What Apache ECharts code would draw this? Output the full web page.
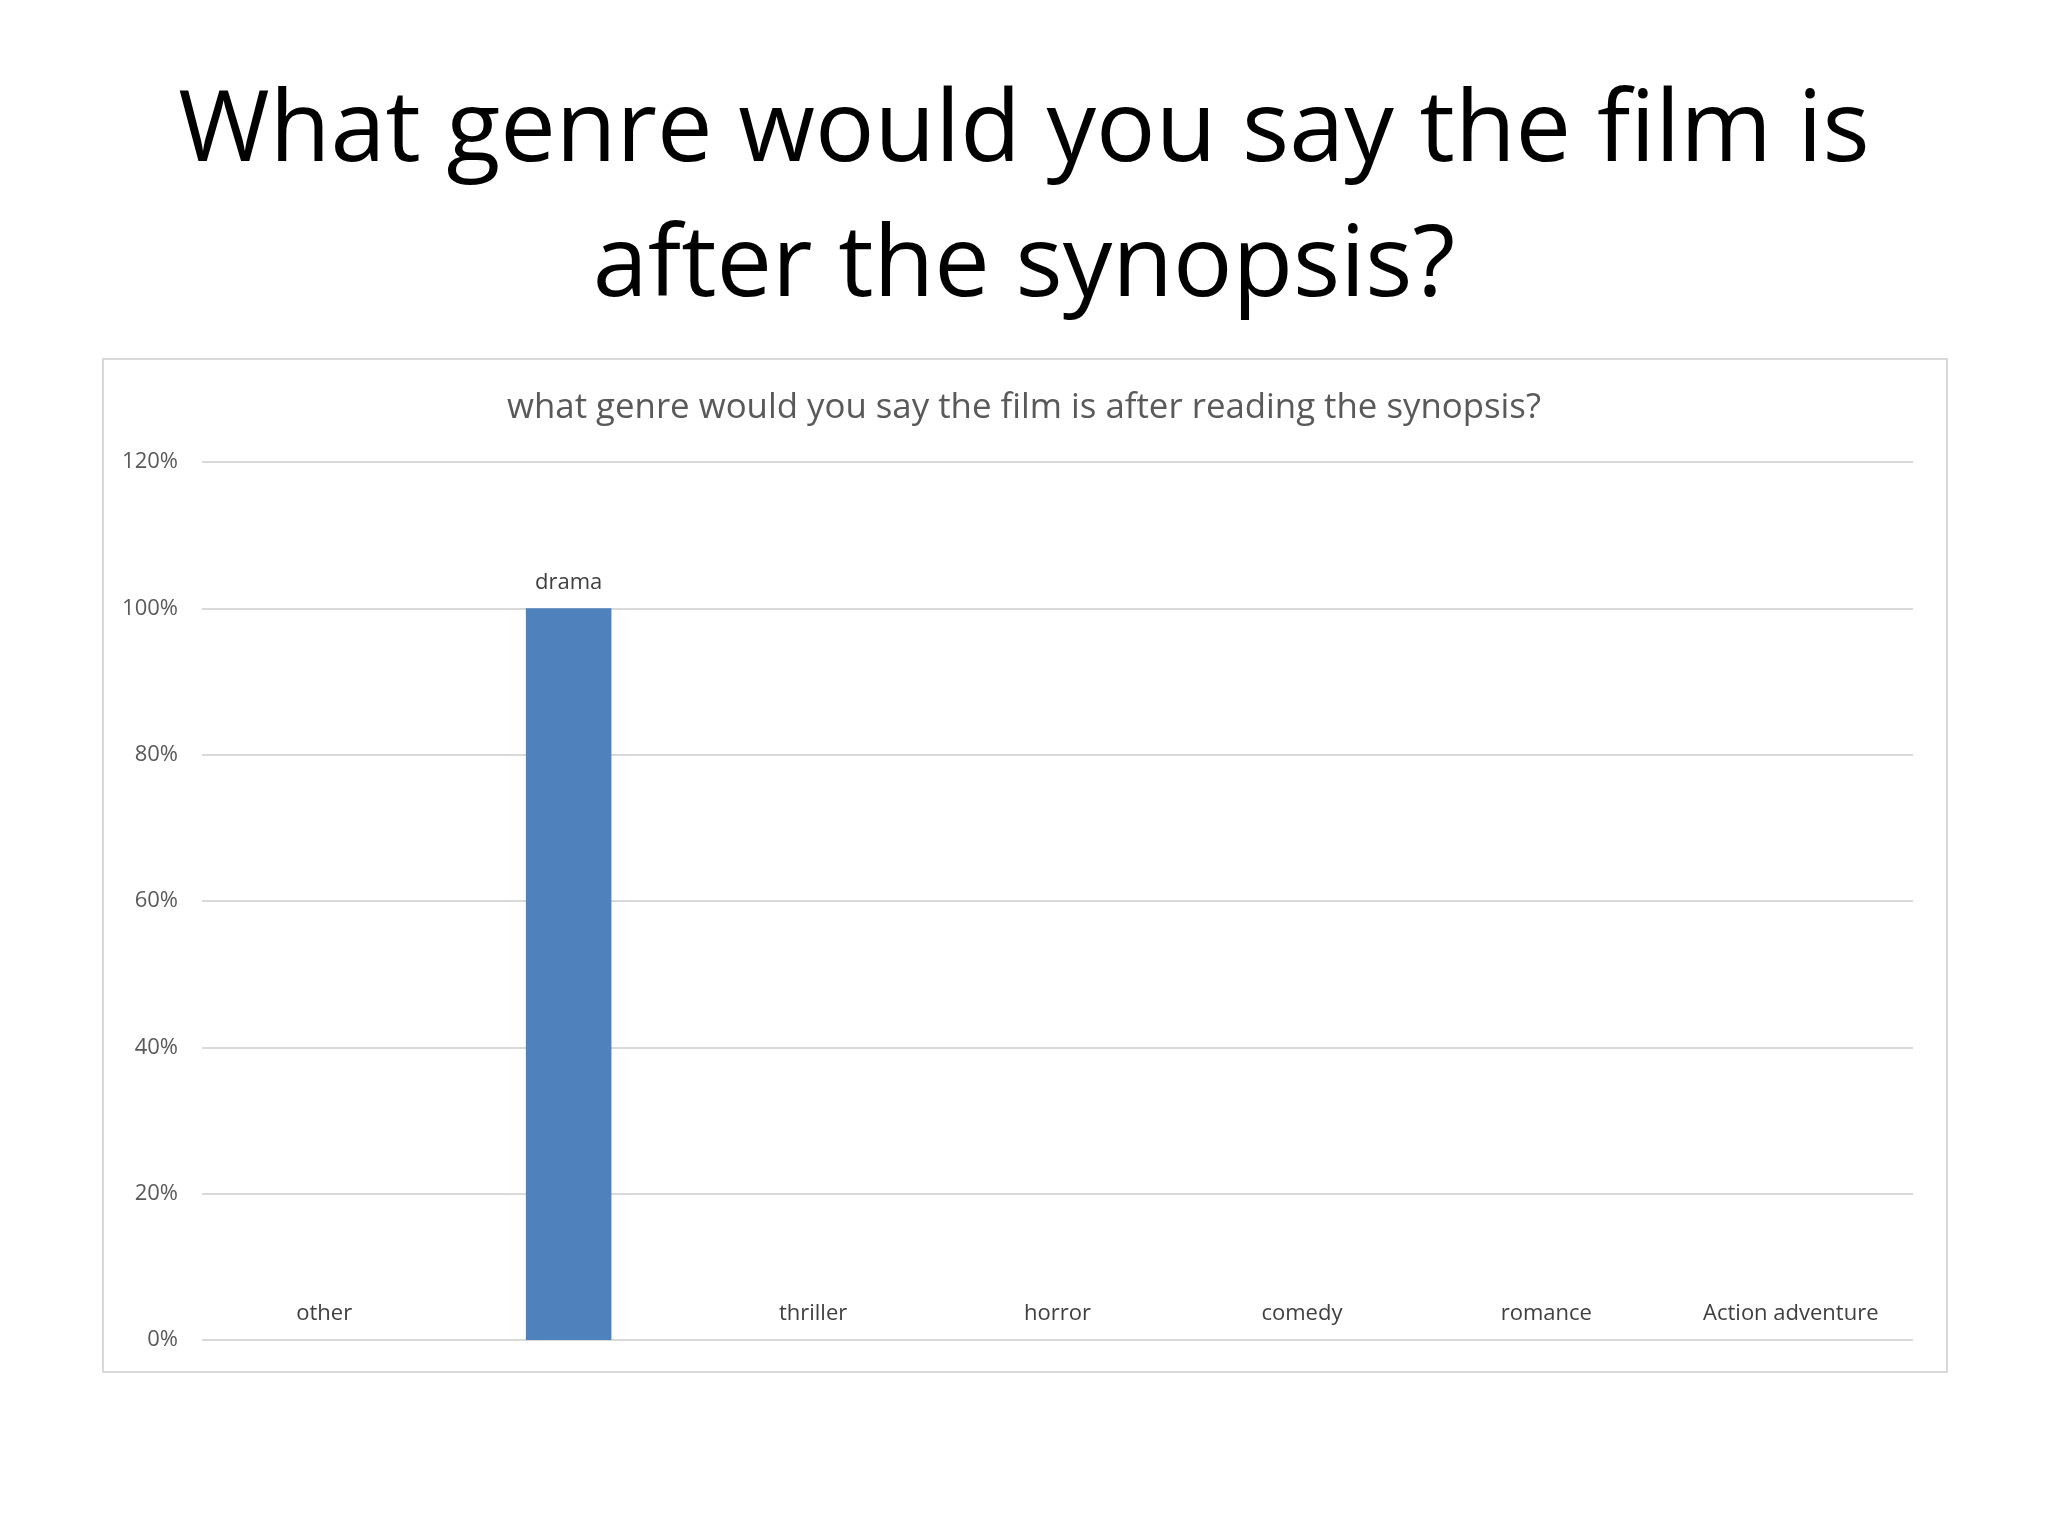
<!DOCTYPE html>
<html><head><meta charset="utf-8">
<script src="https://cdn.jsdelivr.net/npm/echarts@6/dist/echarts.min.js"></script>
<style>html,body{margin:0;padding:0;background:#fff}#c{width:2048px;height:1536px}</style>
</head><body><div id="c"></div>
<script>
const pageTitle = 'What genre would you say the film is\nafter the synopsis?';
const chartTitle = 'what genre would you say the film is after reading the synopsis?';
const categories = ['other', 'drama', 'thriller', 'horror', 'comedy', 'romance', 'Action adventure'];
const values = [0, 1, 0, 0, 0, 0, 0];
const yTicks = [0, 0.2, 0.4, 0.6, 0.8, 1.0, 1.2];

const chart = echarts.init(document.getElementById('c'), null, {renderer: 'canvas'});
chart.setOption({
  backgroundColor: '#ffffff',
  animation: false,
  textStyle: {fontFamily: 'Open Sans'},
  graphic: [{
    type: 'rect', left: 102, top: 358, z: -1,
    shape: {width: 1844, height: 1013},
    style: {fill: '#ffffff', stroke: '#d9d9d9', lineWidth: 2}
  }],
  title: [{
    text: pageTitle, left: 'center', top: 60,
    textStyle: {fontFamily: 'Open Sans', fontSize: 99, fontWeight: 'normal', color: '#000000', lineHeight: 135}
  }, {
    text: chartTitle, left: 'center', top: 386,
    textStyle: {fontFamily: 'Open Sans', fontSize: 34.8, fontWeight: 'normal', color: '#595959'}
  }],
  grid: {left: 202, right: 2048 - 1913, top: 462, bottom: 1536 - 1340, containLabel: false},
  xAxis: {
    type: 'category', data: categories,
    axisLine: {show: false}, axisTick: {show: false}, axisLabel: {show: false}
  },
  yAxis: {
    type: 'value', min: yTicks[0], max: yTicks[yTicks.length - 1], interval: 0.2,
    axisLine: {show: false}, axisTick: {show: false},
    axisLabel: {
      fontFamily: 'Open Sans', fontSize: 22, color: '#595959', margin: 24,
      formatter: v => Math.round(v * 100) + '%'
    },
    splitLine: {lineStyle: {color: '#d9d9d9', width: 2}}
  },
  series: [{
    type: 'bar', data: values, barWidth: '35%',
    itemStyle: {color: '#4F81BD'},
    label: {
      show: true, position: 'top', distance: 15, formatter: '{b}',
      fontFamily: 'Open Sans', fontSize: 22, color: '#404040'
    }
  }]
});
</script></body></html>
